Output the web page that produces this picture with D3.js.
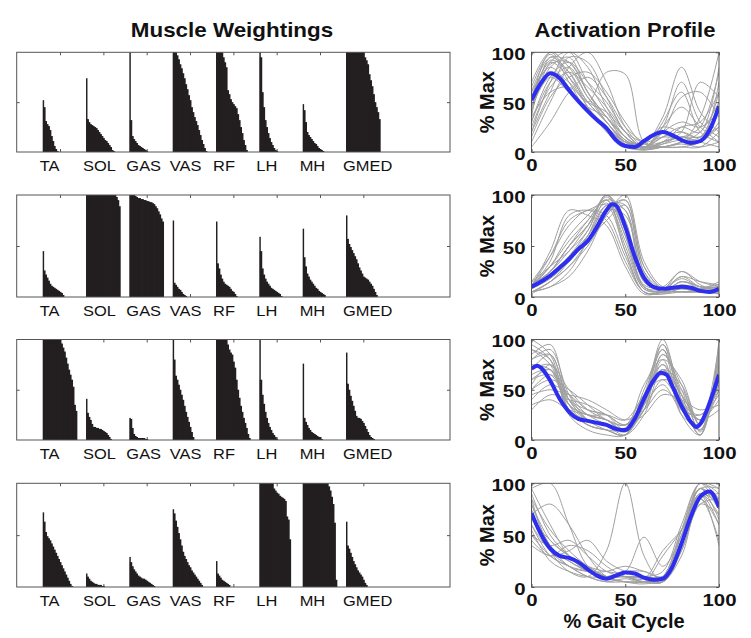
<!DOCTYPE html>
<html><head><meta charset="utf-8">
<script src="https://cdn.jsdelivr.net/npm/d3@7"></script>
<style>body{margin:0;background:#fff} svg{display:block}</style>
</head><body><svg id="c" width="751" height="638"></svg>
<script>
// ---------- DATA ----------
const muscles = ["TA","SOL","GAS","VAS","RF","LH","MH","GMED"];
const nSubjects = 24;
const weightTicks = [1,2,3,4,5,6,7,8];
const profileTicks = [0,50,100];

// sorted muscle weightings per subject (module 1..4), one array per muscle
const weightsM1 = [
  [0.52,0.45,0.31,0.28,0.26,0.22,0.16,0.11,0.06,0.03,0.01],
  [0.74,0.33,0.30,0.28,0.27,0.26,0.25,0.24,0.22,0.20,0.18,0.16,0.14,0.12,0.11,0.09,0.07,0.05,0.02,0.01],
  [1.0,0.32,0.16,0.13,0.11,0.09,0.07,0.06,0.05,0.04,0.03,0.02,0.01],
  [1,1,1,0.97,0.93,0.88,0.84,0.79,0.74,0.68,0.63,0.57,0.52,0.45,0.40,0.35,0.31,0.27,0.22,0.17,0.12,0.08,0.04,0.01],
  [1,1,1,1,1,0.95,0.90,0.85,0.62,0.58,0.53,0.50,0.48,0.46,0.44,0.38,0.32,0.25,0.19,0.12,0.07,0.02],
  [1.0,0.95,0.60,0.45,0.32,0.25,0.19,0.14,0.10,0.07,0.04,0.02,0.01],
  [0.48,0.42,0.30,0.20,0.17,0.15,0.13,0.11,0.09,0.08,0.06,0.04,0.03,0.02,0.01],
  [1,1,1,1,1,1,1,1,1,1,1,1,1,0.95,0.92,0.88,0.78,0.72,0.66,0.58,0.50,0.45,0.40,0.33]
];
const weightsM2 = [
  [0.45,0.26,0.22,0.19,0.16,0.13,0.11,0.10,0.09,0.08,0.07,0.06,0.05,0.04,0.02],
  [1,1,1,1,1,1,1,1,1,1,1,1,1,1,1,1,1,1,1,1,1,0.98,0.95,0.89],
  [1,1,1,1,0.99,0.98,0.97,0.97,0.96,0.96,0.95,0.95,0.94,0.94,0.93,0.93,0.92,0.91,0.89,0.87,0.84,0.81,0.77,0.74],
  [0.75,0.14,0.12,0.10,0.08,0.07,0.05,0.03,0.02,0.01],
  [0.74,0.33,0.28,0.22,0.18,0.15,0.13,0.12,0.11,0.10,0.08,0.06,0.05,0.03,0.01],
  [0.59,0.45,0.28,0.22,0.18,0.15,0.13,0.11,0.09,0.08,0.07,0.06,0.05,0.04,0.03,0.01],
  [0.67,0.39,0.30,0.23,0.20,0.17,0.15,0.13,0.11,0.09,0.08,0.06,0.05,0.04,0.03,0.02],
  [0.80,0.57,0.52,0.49,0.46,0.43,0.40,0.37,0.33,0.29,0.26,0.23,0.20,0.19,0.18,0.17,0.15,0.13,0.11,0.08,0.05,0.02]
];
const weightsM3 = [
  [1,1,1,1,1,1,1,1,1,1,1,1,1,0.96,0.92,0.88,0.82,0.76,0.70,0.65,0.60,0.53,0.35,0.29],
  [0.41,0.27,0.23,0.20,0.16,0.13,0.13,0.12,0.12,0.11,0.11,0.10,0.09,0.08,0.07,0.05,0.03,0.01],
  [0.22,0.21,0.12,0.06,0.04,0.03,0.02,0.02,0.02,0.02,0.02,0.01,0.01],
  [1.0,0.80,0.64,0.60,0.55,0.50,0.45,0.40,0.34,0.28,0.23,0.18,0.13,0.08,0.03],
  [1,1,1,1,1,1,1,1,0.95,0.90,0.87,0.85,0.78,0.72,0.60,0.50,0.42,0.34,0.28,0.22,0.17,0.12,0.06,0.02],
  [1.0,0.60,0.45,0.36,0.28,0.22,0.17,0.13,0.10,0.07,0.05,0.03,0.01],
  [0.76,0.22,0.18,0.15,0.12,0.10,0.08,0.07,0.06,0.05,0.04,0.03,0.03,0.01],
  [0.87,0.56,0.50,0.44,0.39,0.34,0.29,0.24,0.22,0.22,0.21,0.19,0.17,0.14,0.11,0.08,0.05,0.03,0.02,0.01]
];
const weightsM4 = [
  [0.72,0.63,0.53,0.49,0.47,0.45,0.42,0.39,0.36,0.33,0.30,0.27,0.24,0.21,0.18,0.15,0.12,0.09,0.06,0.03,0.01],
  [0.13,0.10,0.08,0.06,0.05,0.04,0.03,0.03,0.02,0.02,0.02,0.01,0.01],
  [0.29,0.24,0.20,0.17,0.15,0.13,0.11,0.10,0.09,0.08,0.08,0.07,0.06,0.05,0.04,0.03,0.02,0.01],
  [0.75,0.71,0.64,0.58,0.52,0.46,0.40,0.34,0.30,0.27,0.24,0.21,0.19,0.16,0.14,0.12,0.10,0.08,0.06,0.04,0.02],
  [0.25,0.13,0.11,0.09,0.07,0.06,0.05,0.04,0.03,0.02],
  [1,1,1,1,1,1,1,1,1,1,0.95,0.93,0.91,0.90,0.88,0.87,0.86,0.85,0.83,0.68,0.65,0.46],
  [1,1,1,1,1,1,1,1,1,1,1,1,1,1,1,1,1,1,0.97,0.93,0.87,0.80,0.62,0.07],
  [0.63,0.40,0.37,0.33,0.29,0.25,0.22,0.19,0.16,0.14,0.12,0.10,0.07,0.04,0.02]
];

// mean activation profiles: [% gait cycle, % max]
const meanM1 = [[0,52],[5,69],[10,79],[15,74],[20,62],[25,51],[30,41],[35,32],[40,24],[45,12],[50,6],[55,5],[60,11],[65,17],[70,20],[75,17],[80,12],[85,9],[90,11],[95,22],[100,46]];
const meanM2 = [[0,10],[5,15],[10,21],[15,29],[20,37],[25,47],[30,55],[35,69],[40,85],[43,91],[45,90],[50,69],[55,40],[60,19],[65,10],[70,8],[75,9],[80,10],[85,9],[90,6],[95,5],[100,8]];
const meanM3 = [[0,71],[3,74],[5,72],[10,59],[15,41],[20,28],[25,21],[30,19],[35,17],[40,15],[45,11],[48,10],[50,10],[55,21],[60,41],[65,59],[69,67],[72,65],[75,54],[80,34],[85,18],[88,13],[90,16],[95,37],[100,65]];
const meanM4 = [[0,71],[5,51],[10,37],[15,30],[20,28],[25,24],[30,17],[35,11],[40,8],[45,11],[50,14],[55,13],[60,9],[65,7],[70,8],[75,19],[80,42],[85,68],[90,87],[95,92],[100,77]];

// individual subject profiles sampled at these % gait cycle points
const profileX = [0,10,20,30,40,50,60,70,80,90,100];
const subjectsM1 = [
  [55,90,75,50,30,10,5,15,20,15,45],[40,85,95,60,35,15,5,10,25,30,60],[20,70,100,85,45,15,3,5,10,20,50],
  [60,95,80,45,25,8,2,8,15,10,30],[30,75,90,70,50,20,5,25,70,30,15],[50,100,85,55,30,10,8,35,85,40,20],
  [10,50,85,100,70,25,5,5,10,15,40],[45,80,70,50,80,78,10,5,5,10,25],[65,98,70,40,25,10,5,20,55,60,35],
  [35,60,65,50,40,20,10,15,15,25,80],[5,30,60,75,55,25,10,5,5,5,20],[55,88,90,60,30,12,3,10,20,70,55],
  [25,65,80,65,45,20,5,25,45,25,10],[70,100,75,45,20,5,2,5,8,5,10],[40,90,100,70,40,15,5,15,25,20,85],
  [15,55,75,80,60,30,8,10,15,10,5],[60,85,65,40,25,10,10,25,20,15,60],[30,70,85,55,35,12,5,5,10,35,100],
  [50,92,80,50,30,10,3,30,60,20,10],[20,60,95,90,55,20,5,10,15,15,25],[45,75,60,45,35,15,5,8,12,10,70],
  [35,95,90,60,35,12,5,20,30,25,40]
];
const subjectsM2 = [
  [10,25,50,75,95,60,10,5,10,5,8],[5,15,35,60,90,85,20,5,15,10,5],[15,40,70,85,80,40,5,5,20,10,10],
  [8,20,40,65,100,75,15,8,25,12,5],[12,30,55,75,95,50,8,5,10,8,10],[5,10,25,55,85,95,30,8,5,5,5],
  [10,35,80,85,75,35,5,3,8,5,8],[3,15,30,55,90,90,25,5,15,8,3],[15,30,45,65,100,70,10,8,20,15,12],
  [8,25,50,70,92,55,8,5,5,5,5],[10,45,85,80,70,30,3,5,12,8,15],[5,15,30,50,80,100,35,10,10,8,5],
  [12,25,45,70,98,65,12,10,25,15,10],[8,20,40,60,85,80,20,5,8,5,8],[10,30,60,80,95,45,5,3,5,5,5],
  [15,20,35,60,95,85,15,8,18,10,12],[5,10,20,45,80,95,30,8,5,5,3],[10,40,75,85,90,45,5,5,10,8,10],
  [12,25,50,70,100,60,10,5,15,10,8],[8,18,35,55,75,90,25,8,10,5,5]
];
const subjectsM3 = [
  [70,75,40,20,15,10,40,70,30,15,60],[90,80,35,25,20,8,30,85,50,10,75],[50,60,50,35,20,15,45,60,35,20,40],
  [100,85,30,15,10,5,35,95,45,5,90],[40,55,45,30,25,15,35,55,30,25,50],[80,90,45,20,10,5,50,90,25,5,100],
  [60,65,35,25,25,20,45,70,45,20,55],[75,70,30,15,10,10,30,80,60,15,70],[30,45,40,35,25,15,25,45,40,30,35],
  [95,80,25,10,5,5,40,100,40,5,85],[55,75,50,30,20,10,45,75,30,10,65],[85,95,40,20,15,8,35,85,55,8,80],
  [45,50,45,40,30,20,30,50,35,25,45],[65,70,30,20,15,12,55,80,25,15,60],[70,85,40,25,15,5,25,70,55,15,95],
  [35,40,30,25,20,15,40,65,40,20,30],[90,75,35,20,15,10,45,95,35,10,70],[50,65,45,25,20,10,30,60,50,15,50],
  [80,85,35,15,10,5,40,90,40,5,75],[60,70,40,30,25,10,35,75,45,20,65]
];
const subjectsM4 = [
  [80,40,25,15,10,10,8,5,40,95,80],[60,30,20,10,5,5,5,8,50,90,70],[95,100,60,20,10,10,5,5,45,85,60],
  [70,80,60,30,10,5,5,10,55,100,90],[50,40,45,30,15,10,10,5,35,80,85],[85,35,15,10,35,100,30,5,40,90,40],
  [65,45,30,20,15,15,48,20,50,95,75],[90,50,30,15,10,10,10,15,60,100,95],[45,30,40,35,20,10,5,5,30,85,90],
  [75,35,20,10,5,8,5,30,55,90,60],[55,25,15,10,10,15,15,10,45,95,80],[80,45,30,20,10,5,3,8,40,100,85],
  [40,30,35,45,25,15,10,5,35,80,70],[70,40,20,15,15,20,15,10,50,95,95],[85,55,35,20,10,10,8,35,55,85,45],
  [60,35,25,15,8,5,5,5,45,100,75],[50,30,20,15,10,10,10,10,40,90,80],[95,60,30,15,10,10,5,10,55,95,65]
];

const weights = [weightsM1, weightsM2, weightsM3, weightsM4];
const means = [meanM1, meanM2, meanM3, meanM4];
const subjects = [subjectsM1, subjectsM2, subjectsM3, subjectsM4];

// ---------- LAYOUT ----------
const FONT = "'Liberation Sans', Arial, Helvetica, sans-serif";
const rows = [{t:52.3,b:152},{t:195,b:297},{t:339.5,b:440},{t:483.3,b:587}];
const L = {x0:16.7, x1:450};
const R = {x0:531.5, x1:719};
const BOX = "#555";
const svg = d3.select("#c");

function stretchedText(parent, x, y, str, opts) {
  const g = parent.append("g").attr("transform", `translate(${x},${y}) scale(${opts.sx||1},1)`);
  return g.append("text").text(str)
    .attr("font-family", FONT).attr("font-size", opts.size)
    .attr("font-weight", opts.weight || "normal")
    .attr("text-anchor", opts.anchor || "start")
    .attr("fill", "#111");
}

stretchedText(svg, 232, 37, "Muscle Weightings", {size:20, sx:1.12, weight:"bold", anchor:"middle"});
stretchedText(svg, 625, 37, "Activation Profile", {size:20, sx:1.1, weight:"bold", anchor:"middle"});

function styleAxis(sel, labelled) {
  sel.attr("color", BOX);
  sel.select(".domain").remove();
  sel.selectAll("line").attr("stroke-width", 1);
  if (!labelled) sel.selectAll("text").remove();
}

rows.forEach((row, r) => {
  // ---------- LEFT: muscle weightings ----------
  const sx = d3.scaleLinear().domain([0,10]).range([L.x0, L.x1]);
  const sy = d3.scaleLinear().domain([0,1]).range([row.b, row.t]);
  const gl = svg.append("g");
  const tickAx = [
    [d3.axisTop(sx).tickValues(weightTicks), `translate(0,${row.t})`],
    [d3.axisBottom(sx).tickValues(weightTicks), `translate(0,${row.b})`],
    [d3.axisLeft(sy).tickValues([0.5]), `translate(${L.x0},0)`],
    [d3.axisRight(sy).tickValues([0.5]), `translate(${L.x1},0)`]
  ];
  tickAx.forEach(([ax, tr]) => {
    gl.append("g").attr("transform", tr).call(ax.tickSize(-3).tickFormat("")).call(s => styleAxis(s, false));
  });
  const bw = 0.8 / nSubjects;
  weights[r].forEach((vals, m) => {
    gl.append("g").selectAll("rect").data(vals).join("rect")
      .attr("x", (d, i) => sx(m + 0.6 + i * bw) - (i > 0 ? 1 : 0))
      .attr("width", (d, i) => sx(bw) - sx(0) + (i > 0 ? 1 : 0))
      .attr("y", d => sy(Math.min(d, 1)))
      .attr("height", d => sy(0) - sy(Math.min(d, 1)))
      .attr("fill", "#231f20");
  });
  gl.append("rect").attr("x", L.x0).attr("y", row.t)
    .attr("width", L.x1 - L.x0).attr("height", row.b - row.t)
    .attr("fill", "none").attr("stroke", BOX).attr("stroke-width", 1);
  muscles.forEach((name, m) => {
    stretchedText(gl, sx(m + 0.6) - 3, row.b + 19, name, {size:15.5, sx:1.06});
  });

  // ---------- RIGHT: activation profiles ----------
  const px = d3.scaleLinear().domain([0,100]).range([R.x0, R.x1]);
  const py = d3.scaleLinear().domain([0,100]).range([row.b, row.t]);
  const gr = svg.append("g");
  const clipId = "clip" + r;
  gr.append("clipPath").attr("id", clipId).append("rect")
    .attr("x", R.x0).attr("y", row.t).attr("width", R.x1 - R.x0).attr("height", row.b - row.t);
  const plot = gr.append("g").attr("clip-path", `url(#${clipId})`);
  const grayLine = d3.line().x((d, i) => px(profileX[i])).y(d => py(d)).curve(d3.curveCatmullRom.alpha(0.5));
  plot.selectAll("path.subj").data(subjects[r]).join("path").attr("class", "subj")
    .attr("d", grayLine).attr("fill", "none").attr("stroke", "#a0a0a0").attr("stroke-width", 1);
  const meanLine = d3.line().x(d => px(d[0])).y(d => py(d[1])).curve(d3.curveMonotoneX);
  plot.append("path").datum(means[r]).attr("d", meanLine)
    .attr("fill", "none").attr("stroke", "#2e2ef0").attr("stroke-width", 4).attr("stroke-linejoin", "round");

  gr.append("g").attr("transform", `translate(0,${row.t})`)
    .call(d3.axisTop(px).tickValues(profileTicks).tickSize(-3).tickFormat("")).call(s => styleAxis(s, false));
  gr.append("g").attr("transform", `translate(${R.x1},0)`)
    .call(d3.axisRight(py).tickValues(profileTicks).tickSize(-3).tickFormat("")).call(s => styleAxis(s, false));
  const yl = gr.append("g").attr("transform", `translate(${R.x0},0)`)
    .call(d3.axisLeft(py).tickValues(profileTicks).tickSize(-3).tickPadding(5)).call(s => styleAxis(s, true));
  yl.selectAll("text").attr("font-family", FONT).attr("font-size", 17).attr("font-weight", "bold")
    .attr("fill", "#111").attr("dy", "0.42em").attr("transform", "scale(1.2,1)");
  const xl = gr.append("g").attr("transform", `translate(0,${row.b})`)
    .call(d3.axisBottom(px).tickValues(profileTicks).tickSize(-3).tickPadding(6.5)).call(s => styleAxis(s, true));
  xl.selectAll("text").attr("font-family", FONT).attr("font-size", 17).attr("font-weight", "bold")
    .attr("fill", "#111").attr("transform", "scale(1.2,1)");
  gr.append("rect").attr("x", R.x0).attr("y", row.t)
    .attr("width", R.x1 - R.x0).attr("height", row.b - row.t)
    .attr("fill", "none").attr("stroke", BOX).attr("stroke-width", 1);
  gr.append("text").attr("transform", `translate(493.5,${(row.t + row.b) / 2}) rotate(-90)`)
    .attr("text-anchor", "middle").attr("font-family", FONT).attr("font-size", 20)
    .attr("font-weight", "bold").attr("fill", "#111").text("% Max");
});

svg.append("text").attr("x", 624).attr("y", 628).attr("text-anchor", "middle")
  .attr("font-family", FONT).attr("font-size", 20).attr("font-weight", "bold")
  .attr("fill", "#111").text("% Gait Cycle");
</script></body></html>
